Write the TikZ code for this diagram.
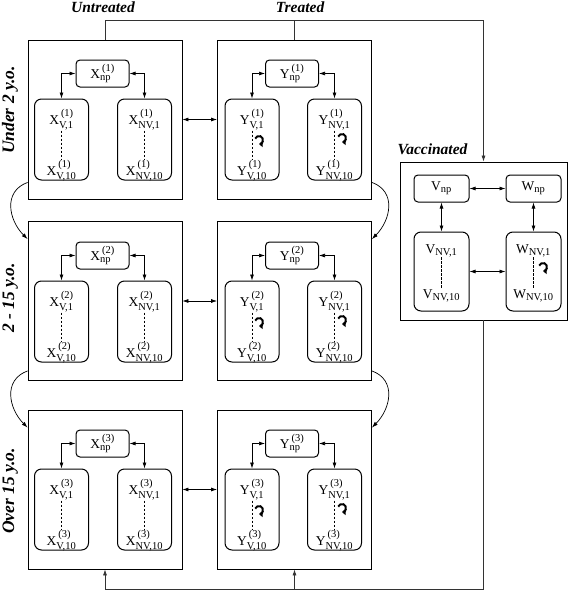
\documentclass[tikz,border=0pt]{standalone}
\usepackage{amsmath}
\usepackage{fontspec}
\setmainfont{Liberation Serif}
\DeclareMathSizes{13.5}{13.5}{10.5}{7.5}
\usetikzlibrary{arrows.meta}
\tikzstyle{group} = [rectangle, minimum width=154pt, minimum height=159pt, inner sep=0pt, draw=black, line width=0.8pt]
\tikzstyle{npbox} = [rectangle, rounded corners=4pt, minimum width=53pt, minimum height=27pt, inner sep=0pt, draw=black, line width=1pt, font=\fontsize{13.5}{15}\selectfont]
\tikzstyle{stack} = [rectangle, rounded corners=7pt, minimum width=54pt, minimum height=81pt, inner sep=0pt, draw=black, line width=1pt]
\tikzstyle{lab} = [inner sep=0.5pt, anchor=base, font=\fontsize{13.5}{15}\selectfont]
\tikzstyle{arrow} = [line width=0.7pt, ->, >={Latex[length=6pt,width=4pt]}]
\tikzstyle{dbl} = [line width=0.7pt, <->, >={Latex[length=6pt,width=4pt]}]
\tikzstyle{wire} = [line width=0.7pt, draw=black!80, ->, >={Latex[length=6pt,width=4pt]}]
\tikzstyle{dots} = [line width=0.7pt, dash pattern=on 2.5pt off 1.5pt]
\tikzstyle{twirl} = [line width=2pt, -{Triangle[length=3.5pt,width=6pt]}]
\tikzstyle{title} = [font=\fontsize{15.5}{17}\selectfont\bfseries\itshape, anchor=base, inner sep=0pt]
\tikzstyle{age} = [font=\fontsize{17.5}{19}\selectfont\bfseries\itshape, anchor=base, rotate=90, inner sep=0pt]
\newcommand{\pop}[3]{$\text{#1}^{\hspace{2pt}\text{(#3)}}_{\text{#2}}$}
\newcommand{\vac}[2]{$\text{#1}_{\text{#2}}$}

\begin{document}
\begin{tikzpicture}[x=1pt, y=-1pt]
		\useasboundingbox (0,0) rectangle (569,592);
		
		\node (untr) [title] at (103,12) {Untreated};
		\node (tr) [title] at (300,12) {Treated};
		\node (vtitle) [title] at (432.5,154) {Vaccinated};
		
		\node (age1) [age] at (14,110) {Under 2 y.o.};
		\node (age2) [age] at (14,298) {2 - 15 y.o.};
		\node (age3) [age] at (14,491) {Over 15 y.o.};
		
		% under 2
		\node (x1) [group] at (105,119.5) {};
		\node (y1) [group] at (294.5,119.5) {};
		\node (xnp1) [npbox] at (102.5,73.5) {\pop{X}{np}{1}};
		\node (ynp1) [npbox] at (292,73.5) {\pop{Y}{np}{1}};
		\node (xv1) [stack] at (61.5,139.5) {};
		\node (xnv1) [stack] at (144.5,139.5) {};
		\node (yv1) [stack] at (252,139.5) {};
		\node (ynv1) [stack] at (334.5,139.5) {};
		\node (xva1) [lab] at (61.5,124) {\pop{X}{V,1}{1}};
		\node (xvb1) [lab] at (61.5,175) {\pop{X}{V,10}{1}};
		\node (xnva1) [lab] at (144.5,124) {\pop{X}{NV,1}{1}};
		\node (xnvb1) [lab] at (144.5,175) {\pop{X}{NV,10}{1}};
		\node (yva1) [lab] at (252,124) {\pop{Y}{V,1}{1}};
		\node (yvb1) [lab] at (252,175) {\pop{Y}{V,10}{1}};
		\node (ynva1) [lab] at (334.5,124) {\pop{Y}{NV,1}{1}};
		\node (ynvb1) [lab] at (334.5,175) {\pop{Y}{NV,10}{1}};
		
		% 2 - 15
		\node (x2) [group] at (105,301) {};
		\node (y2) [group] at (294.5,301) {};
		\node (xnp2) [npbox] at (102.5,255.5) {\pop{X}{np}{2}};
		\node (ynp2) [npbox] at (292,255.5) {\pop{Y}{np}{2}};
		\node (xv2) [stack] at (61.5,321.5) {};
		\node (xnv2) [stack] at (144.5,321.5) {};
		\node (yv2) [stack] at (252,321.5) {};
		\node (ynv2) [stack] at (334.5,321.5) {};
		\node (xva2) [lab] at (61.5,306) {\pop{X}{V,1}{2}};
		\node (xvb2) [lab] at (61.5,357) {\pop{X}{V,10}{2}};
		\node (xnva2) [lab] at (144.5,306) {\pop{X}{NV,1}{2}};
		\node (xnvb2) [lab] at (144.5,357) {\pop{X}{NV,10}{2}};
		\node (yva2) [lab] at (252,306) {\pop{Y}{V,1}{2}};
		\node (yvb2) [lab] at (252,357) {\pop{Y}{V,10}{2}};
		\node (ynva2) [lab] at (334.5,306) {\pop{Y}{NV,1}{2}};
		\node (ynvb2) [lab] at (334.5,357) {\pop{Y}{NV,10}{2}};
		
		% over 15
		\node (x3) [group] at (105,489.5) {};
		\node (y3) [group] at (294.5,489.5) {};
		\node (xnp3) [npbox] at (102.5,443.5) {\pop{X}{np}{3}};
		\node (ynp3) [npbox] at (292,443.5) {\pop{Y}{np}{3}};
		\node (xv3) [stack] at (61.5,509.5) {};
		\node (xnv3) [stack] at (144.5,509.5) {};
		\node (yv3) [stack] at (252,509.5) {};
		\node (ynv3) [stack] at (334.5,509.5) {};
		\node (xva3) [lab] at (61.5,494) {\pop{X}{V,1}{3}};
		\node (xvb3) [lab] at (61.5,545) {\pop{X}{V,10}{3}};
		\node (xnva3) [lab] at (144.5,494) {\pop{X}{NV,1}{3}};
		\node (xnvb3) [lab] at (144.5,545) {\pop{X}{NV,10}{3}};
		\node (yva3) [lab] at (252,494) {\pop{Y}{V,1}{3}};
		\node (yvb3) [lab] at (252,545) {\pop{Y}{V,10}{3}};
		\node (ynva3) [lab] at (334.5,494) {\pop{Y}{NV,1}{3}};
		\node (ynvb3) [lab] at (334.5,545) {\pop{Y}{NV,10}{3}};
		
		% vaccinated
		\node (vac) [group, minimum width=167pt, minimum height=158pt] at (483.5,241) {};
		\node (vnp) [npbox, minimum width=55pt] at (441.5,188.5) {\vac{V}{np}};
		\node (wnp) [npbox, minimum width=55pt] at (533.5,188.5) {\vac{W}{np}};
		\node (vnv) [stack, minimum width=55pt, minimum height=79pt] at (441.5,271.5) {};
		\node (wnv) [stack, minimum width=55pt, minimum height=79pt] at (533.5,271.5) {};
		\node (vnva) [lab] at (441.5,253) {\vac{V}{NV,1}};
		\node (vnvb) [lab] at (441.5,298) {\vac{V}{NV,10}};
		\node (wnva) [lab] at (533.5,253) {\vac{W}{NV,1}};
		\node (wnvb) [lab] at (533.5,298) {\vac{W}{NV,10}};
		
		\coordinate (topline) at (483.5,20);
		\coordinate (botline) at (483.5,589);
		
		\draw [dbl] (xnp1.west) -| (xv1.north);
		\draw [dbl] (xnp1.east) -| (xnv1.north);
		\draw [dbl] (ynp1.west) -| (yv1.north);
		\draw [dbl] (ynp1.east) -| (ynv1.north);
		\draw [dbl] (xnp2.west) -| (xv2.north);
		\draw [dbl] (xnp2.east) -| (xnv2.north);
		\draw [dbl] (ynp2.west) -| (yv2.north);
		\draw [dbl] (ynp2.east) -| (ynv2.north);
		\draw [dbl] (xnp3.west) -| (xv3.north);
		\draw [dbl] (xnp3.east) -| (xnv3.north);
		\draw [dbl] (ynp3.west) -| (yv3.north);
		\draw [dbl] (ynp3.east) -| (ynv3.north);
		
		\draw [dbl] (x1) -- (y1);
		\draw [dbl] (x2) -- (y2);
		\draw [dbl] (x3) -- (y3);
		
		\draw [dbl] (vnp) -- (wnp);
		\draw [dbl] (vnp) -- (vnv);
		\draw [dbl] (wnp) -- (wnv);
		\draw [dbl] (vnv) -- (wnv);
		
		\draw [dots] (xva1.south) -- (xvb1.north);
		\draw [dots] (xnva1.south) -- (xnvb1.north);
		\draw [dots] (yva1.south) -- (yvb1.north);
		\draw [dots] (ynva1.south) -- (ynvb1.north);
		\draw [dots] (xva2.south) -- (xvb2.north);
		\draw [dots] (xnva2.south) -- (xnvb2.north);
		\draw [dots] (yva2.south) -- (yvb2.north);
		\draw [dots] (ynva2.south) -- (ynvb2.north);
		\draw [dots] (xva3.south) -- (xvb3.north);
		\draw [dots] (xnva3.south) -- (xnvb3.north);
		\draw [dots] (yva3.south) -- (yvb3.north);
		\draw [dots] (ynva3.south) -- (ynvb3.north);
		\draw [dots] (vnva.south) -- (vnvb.north);
		\draw [dots] (wnva.south) -- (wnvb.north);
		
		\draw [twirl] (259,140) ++(-160:4) arc[start angle=-160, end angle=90, radius=4];
		\draw [twirl] (342,138) ++(-160:4) arc[start angle=-160, end angle=90, radius=4];
		\draw [twirl] (259,322) ++(-160:4) arc[start angle=-160, end angle=90, radius=4];
		\draw [twirl] (342,320) ++(-160:4) arc[start angle=-160, end angle=90, radius=4];
		\draw [twirl] (259,510) ++(-160:4) arc[start angle=-160, end angle=90, radius=4];
		\draw [twirl] (342,508) ++(-160:4) arc[start angle=-160, end angle=90, radius=4];
		\draw [twirl] (543,267) ++(-160:4) arc[start angle=-160, end angle=90, radius=4];
		
		\draw [arrow] ([yshift=17pt]x1.south west) to[out=200, in=135, looseness=1.2] ([yshift=-18pt]x2.north west);
		\draw [arrow] ([yshift=17pt]y1.south east) to[out=-20, in=45, looseness=1.2] ([yshift=-18pt]y2.north east);
		\draw [arrow] ([yshift=10pt]x2.south west) to[out=200, in=135, looseness=1.2] ([yshift=-18pt]x3.north west);
		\draw [arrow] ([yshift=10pt]y2.south east) to[out=-20, in=45, looseness=1.2] ([yshift=-18pt]y3.north east);
		
		\draw [wire] (x1.north) |- (topline) -- (vac.north);
		\draw [wire, -] (y1.north) -- (y1.north |- topline);
		\draw [wire] (vac.south) -- (botline) -| (x3.south);
		\draw [wire] (y3.south |- botline) -- (y3.south);
		
\end{tikzpicture}
\end{document}
